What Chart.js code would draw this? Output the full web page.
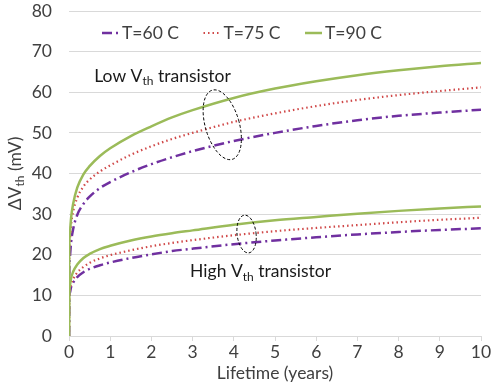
<!DOCTYPE html>
<html>
<head>
<meta charset="utf-8">
<script src="https://cdn.jsdelivr.net/npm/chart.js@4.4.1/dist/chart.umd.min.js"></script>
<style>
  html, body { margin: 0; padding: 0; background: #fff; }
  #wrap { width: 491px; height: 385px; position: relative; }
</style>
</head>
<body>
<div id="wrap"><canvas id="chart"></canvas></div>
<script>
// --- data ---
const years = [0, 0.005, 0.02, 0.05, 0.1, 0.2, 0.35, 0.5, 0.75, 1, 1.5, 2, 2.5, 3, 4, 5, 6, 7, 8, 9, 10];

// low Vth transistor
const lowT60 = [0, 14, 19, 23, 26.3, 29.8, 32.5, 34.3, 36.4, 37.9, 40.3, 42.3, 44, 45.5, 48.0, 50.0, 51.7, 53.1, 54.2, 55.0, 55.7];
const lowT75 = [0, 18, 23, 27.3, 30.6, 34, 36.8, 38.5, 40.5, 42, 44.6, 46.7, 48.5, 50.0, 52.7, 54.8, 56.6, 58.1, 59.3, 60.3, 61.2];
const lowT90 = [0, 20, 25, 29, 32.5, 36.5, 39.8, 41.8, 44.3, 46.2, 49.2, 51.6, 53.8, 55.6, 58.6, 60.9, 62.7, 64.2, 65.4, 66.4, 67.2];

// high Vth transistor
const highT60 = [0, 9, 10.6, 12.0, 13.1, 14.5, 15.7, 16.5, 17.4, 18.1, 19.2, 20.1, 20.9, 21.5, 22.6, 23.5, 24.3, 25.0, 25.6, 26.1, 26.5];
const highT75 = [0, 9.5, 11.3, 12.8, 14.0, 15.6, 17.0, 18.0, 19.1, 19.9, 21.1, 22.1, 22.9, 23.6, 24.8, 25.8, 26.6, 27.3, 28.0, 28.6, 29.1];
const highT90 = [0, 10, 12.3, 14.2, 15.8, 17.6, 19.2, 20.2, 21.4, 22.2, 23.5, 24.5, 25.3, 26.0, 27.4, 28.5, 29.3, 30.1, 30.8, 31.4, 31.9];

const seriesNames = ['T=60 C', 'T=75 C', 'T=90 C'];
const xTicks = [0, 1, 2, 3, 4, 5, 6, 7, 8, 9, 10];
const yTicks = [0, 10, 20, 30, 40, 50, 60, 70, 80];

// --- styles ---
const FONT = 'Lato, "Open Sans", sans-serif';
const TEXT = '#404040';
const GRID = '#d9d9d9';
const styles = [
    { color: '#7030a0', width: 2.5, dash: [10, 4, 2, 4] },
    { color: '#d04848', width: 2.2, dash: [1.5, 3] },
    { color: '#9bbb59', width: 2.5, dash: [] }
];

const toPoints = arr => arr.map((v, i) => ({ x: years[i], y: v }));

function makeSet(values, k, label) {
    const s = styles[k];
    return {
        label: label,
        data: toPoints(values),
        borderColor: s.color,
        borderWidth: s.width,
        borderDash: s.dash,
        pointRadius: 0,
        fill: false,
        cubicInterpolationMode: 'monotone',
        order: 3 - k // green on top
    };
}

const datasets = [
    makeSet(lowT60, 0, seriesNames[0]),
    makeSet(lowT75, 1, seriesNames[1]),
    makeSet(lowT90, 2, seriesNames[2]),
    makeSet(highT60, 0, seriesNames[0]),
    makeSet(highT75, 1, seriesNames[1]),
    makeSet(highT90, 2, seriesNames[2])
];

// text with a subscript part
function drawRich(ctx, parts, x, y, size) {
    const subSize = Math.round(size * 0.68);
    let total = 0;
    parts.forEach(p => {
        ctx.font = `${p.sub ? subSize : size}px ${FONT}`;
        p.w = ctx.measureText(p.t).width;
        total += p.w;
    });
    let cx = x - total / 2;
    ctx.textAlign = 'left';
    ctx.textBaseline = 'middle';
    parts.forEach(p => {
        ctx.font = `${p.sub ? subSize : size}px ${FONT}`;
        ctx.fillText(p.t, cx, p.sub ? y + size * 0.32 : y);
        cx += p.w;
    });
}

const extras = {
    id: 'extras',
    afterDraw(chart) {
        const ctx = chart.ctx;
        const xs = chart.scales.x, ys = chart.scales.y;
        const area = chart.chartArea;
        ctx.save();
        ctx.fillStyle = '#1a1a1a';

        // annotations
        drawRich(ctx, [{ t: 'Low V' }, { t: 'th', sub: true }, { t: ' transistor' }],
            xs.getPixelForValue(2.27), ys.getPixelForValue(64), 17.5);
        drawRich(ctx, [{ t: 'High V' }, { t: 'th', sub: true }, { t: ' transistor' }],
            xs.getPixelForValue(4.65), ys.getPixelForValue(15.8), 17.5);

        ctx.strokeStyle = '#000';
        ctx.lineWidth = 1;
        ctx.setLineDash([3, 2]);
        ctx.beginPath();
        ctx.ellipse(xs.getPixelForValue(3.72), ys.getPixelForValue(52), 17, 36, -0.28, 0, Math.PI * 2);
        ctx.stroke();
        ctx.beginPath();
        ctx.ellipse(xs.getPixelForValue(4.31), ys.getPixelForValue(25.1), 9.5, 19, -0.12, 0, Math.PI * 2);
        ctx.stroke();

        // legend
        ctx.fillStyle = TEXT;
        const legendY = 33;
        seriesNames.forEach((name, k) => {
            const s = styles[k];
            const x0 = 102 + k * 101.5;
            ctx.strokeStyle = s.color;
            ctx.lineWidth = s.width;
            ctx.setLineDash(s.dash);
            ctx.beginPath();
            ctx.moveTo(x0, legendY);
            ctx.lineTo(x0 + 17, legendY);
            ctx.stroke();
            ctx.setLineDash([]);
            ctx.font = `17.5px ${FONT}`;
            ctx.textAlign = 'left';
            ctx.textBaseline = 'middle';
            ctx.fillText(name, x0 + 20, legendY);
        });

        // y axis title
        ctx.translate(15, (area.top + area.bottom) / 2);
        ctx.rotate(-Math.PI / 2);
        drawRich(ctx, [{ t: '\u0394V' }, { t: 'th', sub: true }, { t: ' (mV)' }], 0, 0, 17.5);
        ctx.restore();
    }
};

new Chart(document.getElementById('chart'), {
    type: 'line',
    data: { datasets: datasets },
    options: {
        responsive: true,
        maintainAspectRatio: false,
        animation: false,
        layout: { padding: { top: 11, right: 10, left: 0, bottom: 0 } },
        plugins: {
            legend: { display: false },
            tooltip: { enabled: false }
        },
        scales: {
            x: {
                type: 'linear',
                min: 0,
                max: 10,
                afterBuildTicks: axis => { axis.ticks = xTicks.map(v => ({ value: v })); },
                afterFit: axis => { axis.height = 49; axis.paddingLeft = 0; axis.paddingRight = 0; },
                grid: { display: true, drawOnChartArea: false, drawTicks: true, tickLength: 5, color: GRID },
                border: { display: true, color: GRID, width: 1 },
                ticks: { color: TEXT, font: { family: FONT, size: 17.5 }, padding: 1, maxRotation: 0 },
                title: { display: true, text: 'Lifetime (years)', color: TEXT, font: { family: FONT, size: 17.5 }, padding: { top: 0, bottom: 1 } }
            },
            y: {
                min: 0,
                max: 80,
                afterBuildTicks: axis => { axis.ticks = yTicks.map(v => ({ value: v })); },
                afterFit: axis => { axis.width = 69; axis.paddingTop = 0; axis.paddingBottom = 0; },
                grid: { color: GRID, drawTicks: false },
                border: { display: false },
                ticks: { color: TEXT, font: { family: FONT, size: 17.5 }, padding: 17 }
            }
        }
    },
    plugins: [extras]
});
</script>
</body>
</html>
